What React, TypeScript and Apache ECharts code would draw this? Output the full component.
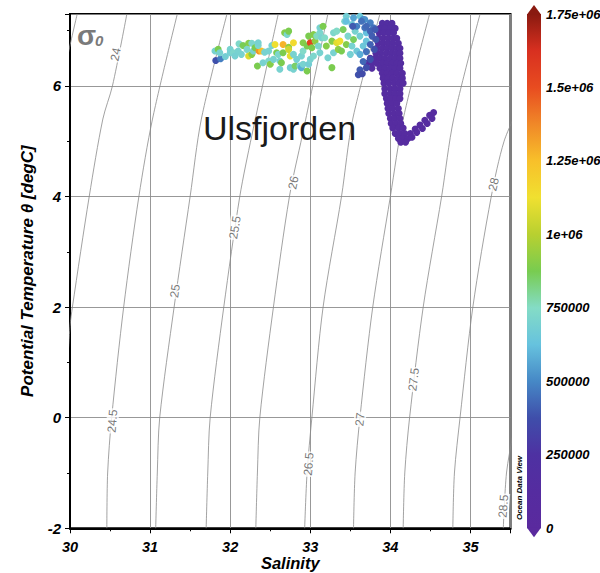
import React, { useEffect, useRef } from 'react';
import * as echarts from 'echarts';

// ---------- axis ticks ----------
const salinityTicks = [30, 31, 32, 33, 34, 35];
const temperatureTicks = [-2, 0, 2, 4, 6];
const colorTickLabels = ['0', '250000', '500000', '750000', '1e+06', '1.25e+06', '1.5e+06', '1.75e+06'];
const colorMax = 1750000;
const colorStep = 250000;

// ---------- palette (evenly spaced from 0 to 1.75e+06) ----------
const paletteColors = [
  '#5a2a9e', '#552ca0', '#4e31a2', '#3f4eaa', '#4688c6', '#66c2de', '#84dcc6', '#78cc50',
  '#b8d030', '#f0e030', '#f8c02a', '#f08828', '#e84c20', '#d83020', '#8a1a10',
];

// ---------- isopycnals sigma0 ----------
const isopycnals: { sigma: string; points: number[][] }[] = [
  { sigma: '23.5', points: [[29.9, 6.0], [29.98, 6.6], [30.09, 7.3]] },
  { sigma: '24', points: [[29.95, 0.5], [30.0, 1.65], [30.03, 2.0], [30.24, 4.0], [30.41, 5.4], [30.53, 6.0], [30.71, 7.3]] },
  { sigma: '24.5', points: [[30.46, -2], [30.47, -1], [30.52, 0], [30.67, 2], [30.86, 4], [31.03, 5.4], [31.34, 7.3]] },
  { sigma: '25', points: [[31.07, -2], [31.09, -1], [31.12, 0], [31.3, 2], [31.5, 4], [31.64, 5.4], [31.96, 7.3]] },
  { sigma: '25.5', points: [[31.7, -2], [31.72, -1], [31.75, 0], [31.92, 2], [32.12, 4], [32.27, 5.1], [32.6, 7.3]] },
  { sigma: '26', points: [[32.32, -2], [32.34, -1], [32.37, 0], [32.54, 2], [32.74, 4], [32.9, 5.1], [33.22, 7.3]] },
  { sigma: '26.5', points: [[32.93, -2], [32.96, -1], [33.02, 0], [33.16, 2], [33.39, 4], [33.53, 5.4], [33.87, 7.3]] },
  { sigma: '27', points: [[33.54, -2], [33.56, -1], [33.62, 0], [33.78, 2], [34.0, 4], [34.16, 5.4], [34.49, 7.3]] },
  { sigma: '27.5', points: [[34.16, -2], [34.18, -1], [34.24, 0], [34.41, 2], [34.64, 4], [34.79, 5.4], [35.12, 7.3]] },
  { sigma: '28', points: [[34.78, -2], [34.8, -1], [34.87, 0], [35.03, 2], [35.26, 4], [35.42, 5.0], [35.6, 5.6]] },
  { sigma: '28.5', points: [[35.41, -2], [35.45, -1], [35.53, -0.3], [35.6, 0.3]] },
];

// label positions along the isopycnals: [S, T, text angle]
const contourLabels: { sigma: string; S: number; T: number; angle: number }[] = [
  { sigma: '24', S: 30.57, T: 6.57, angle: 78 },
  { sigma: '24.5', S: 30.53, T: -0.06, angle: 85 },
  { sigma: '25', S: 31.31, T: 2.29, angle: 82 },
  { sigma: '25.5', S: 32.06, T: 3.44, angle: 81 },
  { sigma: '26', S: 32.79, T: 4.25, angle: 78 },
  { sigma: '26.5', S: 32.98, T: -0.84, angle: 85 },
  { sigma: '27', S: 33.62, T: -0.03, angle: 84 },
  { sigma: '27.5', S: 34.29, T: 0.69, angle: 83 },
  { sigma: '28', S: 35.29, T: 4.22, angle: 76 },
  { sigma: '28.5', S: 35.41, T: -1.6, angle: 86 },
];

// ---------- samples: [salinity, potential temperature, value] ----------
const colouredSamples = [
  [31.81, 6.63, 700000], [31.85, 6.66, 880000], [31.82, 6.46, 380000], [31.88, 6.49, 480000],
  [31.87, 6.6, 700000], [31.94, 6.53, 680000], [32.0, 6.66, 700000], [32.0, 6.6, 690000],
  [32.04, 6.6, 720000], [32.1, 6.63, 700000], [32.06, 6.54, 690000], [32.14, 6.57, 700000],
  [32.11, 6.76, 730000], [32.16, 6.73, 870000], [32.23, 6.77, 900000], [32.27, 6.77, 720000],
  [32.21, 6.66, 720000], [32.23, 6.54, 1080000], [32.27, 6.57, 900000], [32.29, 6.63, 700000],
  [32.31, 6.69, 880000], [32.36, 6.63, 1350000], [32.39, 6.63, 1250000], [32.35, 6.73, 720000],
  [32.35, 6.78, 700000], [32.43, 6.61, 700000], [32.34, 6.36, 880000], [32.41, 6.42, 700000],
  [32.48, 6.45, 720000], [32.48, 6.63, 700000], [32.5, 6.39, 900000], [32.52, 6.73, 700000],
  [32.54, 6.48, 700000], [32.56, 6.75, 1120000], [32.58, 6.6, 880000], [32.6, 6.57, 720000],
  [32.62, 6.45, 700000], [32.62, 6.3, 700000], [32.64, 6.42, 880000], [32.66, 6.75, 1280000],
  [32.66, 6.6, 880000], [32.68, 6.96, 900000], [32.71, 6.93, 720000], [32.73, 6.99, 880000],
  [32.73, 6.7, 920000], [32.79, 6.78, 1150000], [32.73, 6.66, 1050000], [32.75, 6.54, 1100000],
  [32.75, 6.33, 680000], [32.79, 6.57, 700000], [32.79, 6.3, 700000], [32.81, 6.36, 850000],
  [32.83, 6.48, 690000], [32.87, 6.36, 700000], [32.89, 6.33, 580000], [32.89, 6.54, 700000],
  [32.91, 6.39, 700000], [32.91, 6.63, 740000], [32.91, 6.78, 900000], [32.96, 6.72, 880000],
  [32.96, 6.27, 880000], [32.98, 6.39, 680000], [32.98, 6.9, 880000], [33.0, 6.48, 700000],
  [33.0, 6.78, 1550000], [33.02, 6.69, 880000], [33.04, 6.54, 720000], [33.04, 6.93, 900000],
  [33.06, 6.81, 920000], [33.08, 6.9, 760000], [33.1, 6.72, 720000], [33.12, 6.96, 720000],
  [33.14, 6.87, 700000], [33.12, 7.05, 700000], [33.12, 6.6, 700000], [33.16, 7.08, 880000],
  [33.18, 6.87, 740000], [33.2, 6.72, 900000], [33.22, 6.51, 700000], [33.27, 6.33, 880000],
  [33.27, 6.81, 900000], [33.29, 6.6, 700000], [33.29, 6.96, 720000], [33.33, 6.78, 1100000],
  [33.33, 6.99, 740000], [33.35, 6.66, 920000], [33.37, 6.81, 1120000], [33.39, 6.63, 880000],
  [33.41, 7.02, 860000], [33.43, 7.17, 700000], [33.45, 7.26, 680000], [33.45, 6.75, 900000],
  [33.47, 6.9, 720000], [33.5, 6.57, 690000], [33.52, 6.72, 700000], [33.52, 7.11, 660000],
  [33.54, 6.84, 860000], [33.56, 6.99, 700000], [33.58, 6.63, 660000], [33.62, 6.9, 680000],
  [33.62, 7.26, 660000], [33.62, 6.57, 580000], [33.66, 6.72, 650000], [33.7, 6.96, 620000],
  [33.7, 6.81, 640000],
];

const transitionSamples = [
  [33.45, 7.17, 620000], [33.54, 7.23, 560000], [33.58, 7.08, 480000], [33.66, 7.2, 500000],
  [33.68, 7.05, 450000], [33.68, 7.2, 520000], [33.75, 7.14, 480000], [33.79, 7.05, 450000],
  [33.53, 7.08, 400000], [33.64, 7.17, 450000], [33.7, 7.08, 430000], [33.75, 6.99, 420000],
  [33.77, 6.9, 410000], [33.75, 6.75, 420000], [33.7, 6.62, 450000], [33.66, 6.44, 430000],
  [33.62, 6.29, 400000], [33.6, 6.2, 380000], [33.81, 7.02, 400000], [33.82, 6.84, 390000],
  [33.8, 6.66, 380000], [33.75, 6.48, 380000], [33.7, 6.33, 370000], [33.65, 6.22, 360000],
];

// deep purple body, row by row (temperature, salinities, value)
const purpleRows: { T: number; S: number[]; v: number }[] = [
  { T: 7.13, S: [33.9, 33.96, 34.02], v: 180000 },
  { T: 7.04, S: [33.87, 33.93, 34.0, 34.06], v: 170000 },
  { T: 6.96, S: [33.86, 33.92, 33.98, 34.04], v: 160000 },
  { T: 6.86, S: [33.85, 33.91, 33.97, 34.03, 34.08], v: 150000 },
  { T: 6.77, S: [33.85, 33.91, 33.97, 34.03, 34.1], v: 150000 },
  { T: 6.68, S: [33.83, 33.9, 33.96, 34.02, 34.08, 34.12], v: 140000 },
  { T: 6.59, S: [33.82, 33.88, 33.95, 34.01, 34.07, 34.12], v: 140000 },
  { T: 6.5, S: [33.75, 33.81, 33.87, 33.93, 34.0, 34.06, 34.12], v: 150000 },
  { T: 6.41, S: [33.71, 33.77, 33.83, 33.9, 33.96, 34.02, 34.08, 34.13], v: 150000 },
  { T: 6.32, S: [33.77, 33.87, 33.93, 34.0, 34.06, 34.12], v: 140000 },
  { T: 6.23, S: [33.9, 33.96, 34.02, 34.08, 34.15], v: 130000 },
  { T: 6.14, S: [33.91, 33.97, 34.03, 34.1, 34.15], v: 130000 },
  { T: 6.05, S: [33.92, 33.98, 34.05, 34.11, 34.16], v: 120000 },
  { T: 5.95, S: [33.93, 34.0, 34.06, 34.12], v: 120000 },
  { T: 5.86, S: [33.93, 34.0, 34.06, 34.12], v: 120000 },
  { T: 5.77, S: [33.95, 34.01, 34.07, 34.12], v: 110000 },
  { T: 5.68, S: [33.96, 34.02, 34.08], v: 110000 },
  { T: 5.59, S: [33.97, 34.03, 34.1], v: 110000 },
  { T: 5.5, S: [33.98, 34.05, 34.11], v: 100000 },
  { T: 5.41, S: [34.0, 34.06, 34.12], v: 100000 },
  { T: 5.32, S: [34.01, 34.07, 34.13], v: 100000 },
  { T: 5.24, S: [34.03, 34.1, 34.16], v: 100000 },
  { T: 5.14, S: [34.06, 34.12, 34.18], v: 100000 },
  { T: 5.05, S: [34.1, 34.16, 34.22], v: 100000 },
  { T: 4.98, S: [34.13, 34.19], v: 100000 },
];

const purpleTail = [
  [34.25, 5.14, 100000], [34.31, 5.22, 100000], [34.37, 5.29, 100000], [34.43, 5.38, 110000],
  [34.49, 5.47, 110000], [34.54, 5.52, 110000], [34.27, 5.07, 100000], [34.33, 5.16, 100000],
  [34.4, 5.23, 100000], [34.46, 5.32, 110000], [34.52, 5.41, 110000],
];

const FONT = 'Liberation Sans, Arial, sans-serif';

export default function App() {
  const ref = useRef<HTMLDivElement>(null);

  useEffect(() => {
    if (!ref.current) return;
    const chart = echarts.init(ref.current, null, { renderer: 'svg' });

    const purplePoints: number[][] = [];
    purpleRows.forEach((row) => row.S.forEach((s) => purplePoints.push([s, row.T, row.v])));
    const allSamples = [...colouredSamples, ...purplePoints, ...purpleTail, ...transitionSamples];

    const lineSeries = isopycnals.map((iso) => ({
      type: 'line',
      name: 'sigma ' + iso.sigma,
      xAxisIndex: 0,
      yAxisIndex: 0,
      data: iso.points,
      symbol: 'none',
      smooth: 0.3,
      silent: true,
      clip: true,
      z: 1,
      lineStyle: { color: '#8a8a8a', width: 0.8 },
    }));

    const gradientStops = paletteColors.map((c, i) => ({ offset: 1 - i / (paletteColors.length - 1), color: c })).reverse();

    const series: any[] = [
      ...lineSeries,
      {
        type: 'scatter',
        name: 'labels',
        xAxisIndex: 0,
        yAxisIndex: 0,
        symbolSize: 0,
        silent: true,
        z: 2,
        data: contourLabels.map((l) => ({
          name: l.sigma,
          value: [l.S, l.T],
          label: { rotate: l.angle },
        })),
        label: {
          show: true,
          position: 'inside',
          formatter: '{b}',
          fontSize: 12,
          fontFamily: FONT,
          color: '#555',
          backgroundColor: '#fff',
          padding: [0, 1],
        },
      },
      {
        type: 'scatter',
        name: 'samples',
        xAxisIndex: 0,
        yAxisIndex: 0,
        symbol: 'circle',
        symbolSize: 7,
        silent: true,
        z: 3,
        itemStyle: { opacity: 1 },
        data: allSamples,
      },
      {
        type: 'custom',
        name: 'colorbar',
        xAxisIndex: 1,
        yAxisIndex: 1,
        silent: true,
        data: [[0, colorMax]],
        renderItem: (params: any, api: any) => {
          const top = api.coord([0, colorMax]);
          const bot = api.coord([0, 0]);
          const w = api.size([1, 0])[0];
          const x0 = top[0] - w / 2;
          return {
            type: 'group',
            children: [
              {
                type: 'rect',
                shape: { x: x0, y: top[1], width: w, height: bot[1] - top[1] },
                style: { fill: new echarts.graphic.LinearGradient(0, 0, 0, 1, gradientStops) },
              },
              {
                type: 'polygon',
                shape: { points: [[x0, top[1] + 0.5], [x0 + w, top[1] + 0.5], [top[0], top[1] - 9]] },
                style: { fill: paletteColors[paletteColors.length - 1] },
              },
              {
                type: 'polygon',
                shape: { points: [[x0, bot[1] - 0.5], [x0 + w, bot[1] - 0.5], [bot[0], bot[1] + 9]] },
                style: { fill: paletteColors[0] },
              },
            ],
          };
        },
      },
    ];

    const samplesIndex = lineSeries.length + 1;

    const tickFont = { fontFamily: FONT, fontWeight: 'bold', fontStyle: 'italic', color: '#000' };

    chart.setOption({
      animation: false,
      backgroundColor: '#fff',
      grid: [
        {
          left: 70, top: 14, width: 440.5, height: 514.3, show: true, borderColor: '#000', borderWidth: 2,
          backgroundColor: 'transparent', containLabel: false, outerBoundsMode: 'none',
        },
        { left: 527, top: 14, width: 14, height: 514.3, containLabel: false, outerBoundsMode: 'none' },
      ],
      xAxis: [
        {
          type: 'value',
          gridIndex: 0,
          min: 30,
          max: 35.5,
          interval: 1,
          name: 'Salinity',
          nameLocation: 'middle',
          nameGap: 26,
          nameMoveOverlap: false,
          nameTextStyle: { ...tickFont, fontSize: 16.5, lineHeight: 17, verticalAlign: 'top' },
          axisLine: { show: true, onZero: false, lineStyle: { color: '#000', width: 2 } },
          axisTick: { show: true, length: 5, lineStyle: { color: '#000' } },
          minorTick: { show: true, splitNumber: 2, length: 3, lineStyle: { color: '#000' } },
          axisLabel: {
            ...tickFont,
            fontSize: 14.5,
            lineHeight: 15,
            margin: 11,
            formatter: (v: number) => (salinityTicks.includes(v) ? String(v) : ''),
          },
          splitLine: { show: true, lineStyle: { color: '#8c8c8c', width: 0.9 } },
        },
        { type: 'category', gridIndex: 1, data: ['c'], show: false },
      ],
      yAxis: [
        {
          type: 'value',
          gridIndex: 0,
          min: -2,
          max: 7.3,
          interval: 2,
          name: 'Potential Temperature θ [degC]',
          nameLocation: 'middle',
          nameGap: 34,
          nameMoveOverlap: false,
          nameTextStyle: { ...tickFont, fontSize: 17 },
          axisLine: { show: true, onZero: false, lineStyle: { color: '#000', width: 2 } },
          axisTick: { show: true, length: 5, lineStyle: { color: '#000' } },
          minorTick: { show: true, splitNumber: 2, length: 3, lineStyle: { color: '#000' } },
          axisLabel: {
            ...tickFont,
            fontSize: 15,
            margin: 9,
            formatter: (v: number) => (temperatureTicks.includes(v) ? String(v) : ''),
          },
          splitLine: { show: true, lineStyle: { color: '#8c8c8c', width: 0.9 } },
        },
        {
          type: 'value',
          gridIndex: 1,
          min: 0,
          max: colorMax,
          interval: colorStep,
          position: 'right',
          axisLine: { show: false },
          axisTick: { show: false },
          splitLine: { show: false },
          axisLabel: {
            ...tickFont,
            fontSize: 13,
            margin: 5,
            formatter: (v: number) => colorTickLabels[Math.round(v / colorStep)] ?? '',
          },
        },
      ],
      visualMap: {
        type: 'continuous',
        show: false,
        min: 0,
        max: colorMax,
        dimension: 2,
        seriesIndex: samplesIndex,
        inRange: { color: paletteColors },
      },
      graphic: [
        {
          type: 'text',
          x: 203,
          y: 128,
          z: 10,
          style: { text: 'Ulsfjorden', fontFamily: FONT, fontSize: 34, fill: '#1a1a1a', align: 'left', verticalAlign: 'middle' },
        },
        {
          type: 'text',
          x: 77,
          y: 35,
          z: 10,
          style: { text: 'σ', fontFamily: FONT, fontSize: 28, fontWeight: 'bold', fill: '#7a7a7a', align: 'left', verticalAlign: 'middle' },
        },
        {
          type: 'text',
          x: 95,
          y: 40,
          z: 10,
          style: { text: '0', fontFamily: FONT, fontSize: 15, fontWeight: 'bold', fontStyle: 'italic', fill: '#7a7a7a', align: 'left', verticalAlign: 'middle' },
        },
        {
          type: 'text',
          x: 519.5,
          y: 488,
          rotation: Math.PI / 2,
          z: 10,
          style: { text: 'Ocean Data View', fontFamily: FONT, fontSize: 8, fontWeight: 'bold', fontStyle: 'italic', fill: '#000', align: 'center', verticalAlign: 'middle' },
        },
      ],
      series,
    });

    return () => chart.dispose();
  }, []);

  return <div ref={ref} style={{ position: 'fixed', left: 0, top: 0, width: 600, height: 573 }} />;
}
